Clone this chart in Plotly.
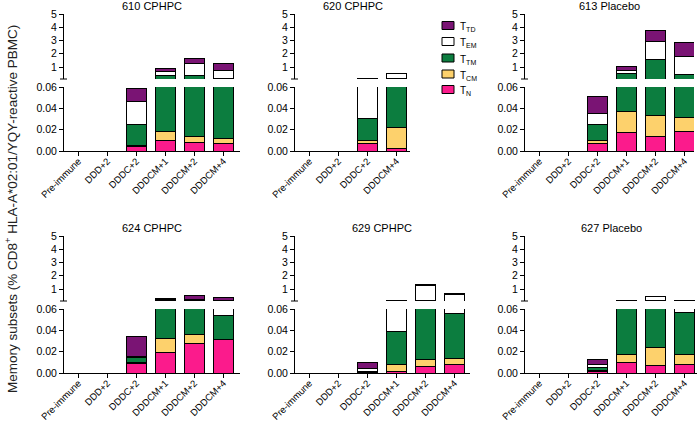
import plotly.graph_objects as go

# ---------------- data ----------------
cats6 = ["Pre-immune", "DDD+2", "DDDC+2", "DDDCM+1", "DDDCM+2", "DDDCM+4"]
cats4 = ["Pre-immune", "DDD+2", "DDDC+2", "DDDCM+4"]

subsets = ["T<sub>N</sub>", "T<sub>CM</sub>", "T<sub>TM</sub>", "T<sub>EM</sub>", "T<sub>TD</sub>"]

titles = ["610 CPHPC", "620 CPHPC", "613 Placebo", "624 CPHPC", "629 CPHPC", "627 Placebo"]

# segment values (% of CD8+ HLA-A*02:01/YQY-reactive PBMC), bottom to top: TN, TCM, TTM, TEM, TTD
p610_TN = [0, 0, 0.0044, 0.0100, 0.0078, 0.0075]
p610_TCM = [0, 0, 0.0006, 0.0080, 0.0060, 0.0041]
p610_TTM = [0, 0, 0.0200, 0.352, 0.356, 0.100]
p610_TEM = [0, 0, 0.0210, 0.30, 0.91, 0.66]
p610_TTD = [0, 0, 0.0128, 0.25, 0.35, 0.48]

p620_TN = [0, 0, 0.0072, 0.0025]
p620_TCM = [0, 0, 0.0031, 0.0194]
p620_TTM = [0, 0, 0.0203, 0.108]
p620_TEM = [0, 0, 0.10, 0.39]
p620_TTD = [0, 0, 0, 0]

p613_TN = [0, 0, 0.0071, 0.0174, 0.0134, 0.018]
p613_TCM = [0, 0, 0.0032, 0.0196, 0.0199, 0.013]
p613_TTM = [0, 0, 0.0149, 0.49, 1.52, 0.40]
p613_TEM = [0, 0, 0.0102, 0.21, 1.40, 1.35]
p613_TTD = [0, 0, 0.0156, 0.31, 0.83, 1.09]

p624_TN = [0, 0, 0.0093, 0.0196, 0.0277, 0.031]
p624_TCM = [0, 0, 0.0005, 0.0124, 0.0083, 0.0007]
p624_TTM = [0, 0, 0.0048, 0.11, 0.094, 0.0218]
p624_TEM = [0, 0, 0.0005, 0.05, 0.05, 0.0765]
p624_TTD = [0, 0, 0.019, 0.08, 0.30, 0.20]

p629_TN = [0, 0, 0.0003, 0.001, 0.0065, 0.0083]
p629_TCM = [0, 0, 0.0002, 0.007, 0.0058, 0.0052]
p629_TTM = [0, 0, 0.0005, 0.0305, 0.108, 0.0425]
p629_TEM = [0, 0, 0.0030, 0.13, 1.18, 0.57]
p629_TTD = [0, 0, 0.0055, 0.0, 0.02, 0.03]

p627_TN = [0, 0, 0.0015, 0.0099, 0.0074, 0.0083]
p627_TCM = [0, 0, 0.0005, 0.0071, 0.0164, 0.0087]
p627_TTM = [0, 0, 0.0030, 0.113, 0.106, 0.0393]
p627_TEM = [0, 0, 0.0030, 0.04, 0.32, 0.11]
p627_TTD = [0, 0, 0.0044, 0.0, 0.0, 0.0]

lower_ticks = [0, 0.02, 0.04, 0.06]
lower_ticktext = ["0.00", "0.02", "0.04", "0.06"]
upper_ticks = [1, 2, 3, 4, 5]
upper_ticktext = ["1", "2", "3", "4", "5"]

panel_cats = [cats6, cats4, cats6, cats6, cats6, cats6]
panel_data = [
    [p610_TN, p610_TCM, p610_TTM, p610_TEM, p610_TTD],
    [p620_TN, p620_TCM, p620_TTM, p620_TEM, p620_TTD],
    [p613_TN, p613_TCM, p613_TTM, p613_TEM, p613_TTD],
    [p624_TN, p624_TCM, p624_TTM, p624_TEM, p624_TTD],
    [p629_TN, p629_TCM, p629_TTM, p629_TEM, p629_TTD],
    [p627_TN, p627_TCM, p627_TTM, p627_TEM, p627_TTD],
]

# ---------------- styles / layout geometry ----------------
colors = ["#fb1b8c", "#fdd16c", "#0c7d3f", "#ffffff", "#7a1474"]
W, H = 700, 421
FONT = "Liberation Sans, Arial, Helvetica, sans-serif"

px_cols = [(64, 240), (295, 410), (525, 694), (64, 240), (295, 470), (525, 697)]
rows = [dict(up_top=14, up_bot=79, lo_top=87, lo_bot=151),
        dict(up_top=236, up_bot=301, lo_top=309, lo_bot=373)]
UP_MIN = 0.1
CAT_PX = 29.0


def py(p):
    return 1 - p / H


fig = go.Figure()
layout = {}
annotations = []
shapes = []

for i in range(6):
    r = rows[i // 3]
    left, right = px_cols[i]
    xname = "x" if i == 0 else f"x{i+1}"
    xkey = "xaxis" if i == 0 else f"xaxis{i+1}"
    ylo_n = 2 * i + 1
    yup_n = 2 * i + 2
    ylo = "y" if ylo_n == 1 else f"y{ylo_n}"
    yup = f"y{yup_n}"
    ylo_key = "yaxis" if ylo_n == 1 else f"yaxis{ylo_n}"
    yup_key = f"yaxis{yup_n}"
    cats = panel_cats[i]

    layout[xkey] = dict(
        domain=[left / W, right / W], anchor=ylo, type="category",
        categoryorder="array", categoryarray=cats,
        range=[-0.5, (right - left) / CAT_PX - 0.5],
        showline=True, linecolor="black", linewidth=1,
        ticks="outside", ticklen=4, tickcolor="black", tickwidth=1,
        tickangle=-45, tickfont=dict(size=9.5, color="black", family=FONT),
        ticklabelstandoff=-4,
        showgrid=False, zeroline=False, fixedrange=True, automargin=False,
    )
    layout[ylo_key] = dict(
        domain=[py(r["lo_bot"]), py(r["lo_top"])], anchor=xname,
        range=[0, 0.06], tickvals=lower_ticks, ticktext=lower_ticktext,
        showline=True, linecolor="black", linewidth=1,
        ticks="outside", ticklen=4, tickcolor="black", tickwidth=1,
        tickfont=dict(size=10.5, color="black", family=FONT),
        showgrid=False, zeroline=False, fixedrange=True, automargin=False,
    )
    layout[yup_key] = dict(
        domain=[py(r["up_bot"]), py(r["up_top"])], anchor=xname,
        range=[UP_MIN, 5], tickvals=upper_ticks, ticktext=upper_ticktext,
        showline=True, linecolor="black", linewidth=1,
        ticks="outside", ticklen=4, tickcolor="black", tickwidth=1,
        tickfont=dict(size=10.5, color="black", family=FONT),
        showgrid=False, zeroline=False, fixedrange=True, automargin=False,
    )

    for yref in (ylo, yup):
        for k, vals in enumerate(panel_data[i]):
            fig.add_trace(go.Bar(
                x=cats, y=vals, xaxis=xname, yaxis=yref,
                name=subsets[k], width=0.66,
                marker=dict(color=colors[k], line=dict(color="black", width=1)),
                showlegend=False,
            ))

    # axis-break mark at the bottom of the upper segment
    shapes.append(dict(type="line", xref="paper", yref="paper",
                       x0=(left - 4) / W, x1=(left + 3) / W,
                       y0=py(r["up_bot"]), y1=py(r["up_bot"]),
                       line=dict(color="black", width=1)))

    annotations.append(dict(
        text=titles[i], xref="paper", yref="paper",
        x=(left + right) / 2 / W, y=py(6 if i < 3 else 228),
        xanchor="center", yanchor="middle", showarrow=False,
        font=dict(size=11, color="black", family=FONT),
    ))

# manual legend (compact spacing as in the reference)
legend_rows_px = [25.5, 41.5, 58, 74, 89.5]
legend_order = [4, 3, 2, 1, 0]
for yy, k in zip(legend_rows_px, legend_order):
    shapes.append(dict(type="rect", xref="paper", yref="paper",
                       x0=442 / W, x1=454 / W, y0=py(yy + 4), y1=py(yy - 4),
                       fillcolor=colors[k], line=dict(color="black", width=1)))
    annotations.append(dict(
        text="T<sub>" + subsets[k].split("<sub>")[1], xref="paper", yref="paper",
        x=458 / W, y=py(yy + 1.5), xanchor="left", yanchor="middle",
        showarrow=False, font=dict(size=10, color="black", family=FONT),
    ))

annotations.append(dict(
    text="Memory subsets (% CD8<sup>+</sup> HLA-A*02:01/YQY-reactive PBMC)",
    xref="paper", yref="paper", x=11 / W, y=py(209), textangle=-90,
    xanchor="center", yanchor="middle", showarrow=False,
    font=dict(size=13.5, color="#222222", family=FONT),
))

fig.update_layout(
    **layout,
    annotations=annotations,
    shapes=shapes,
    barmode="stack",
    width=W, height=H, autosize=False,
    margin=dict(l=0, r=0, t=0, b=0, pad=0, autoexpand=False),
    paper_bgcolor="white", plot_bgcolor="white",
    font=dict(family=FONT, color="black"),
    showlegend=False,
)

fig.write_html("out.html",
               config={"displayModeBar": False, "staticPlot": True},
               post_script="document.body.style.margin='0px';document.body.style.padding='0px';")
